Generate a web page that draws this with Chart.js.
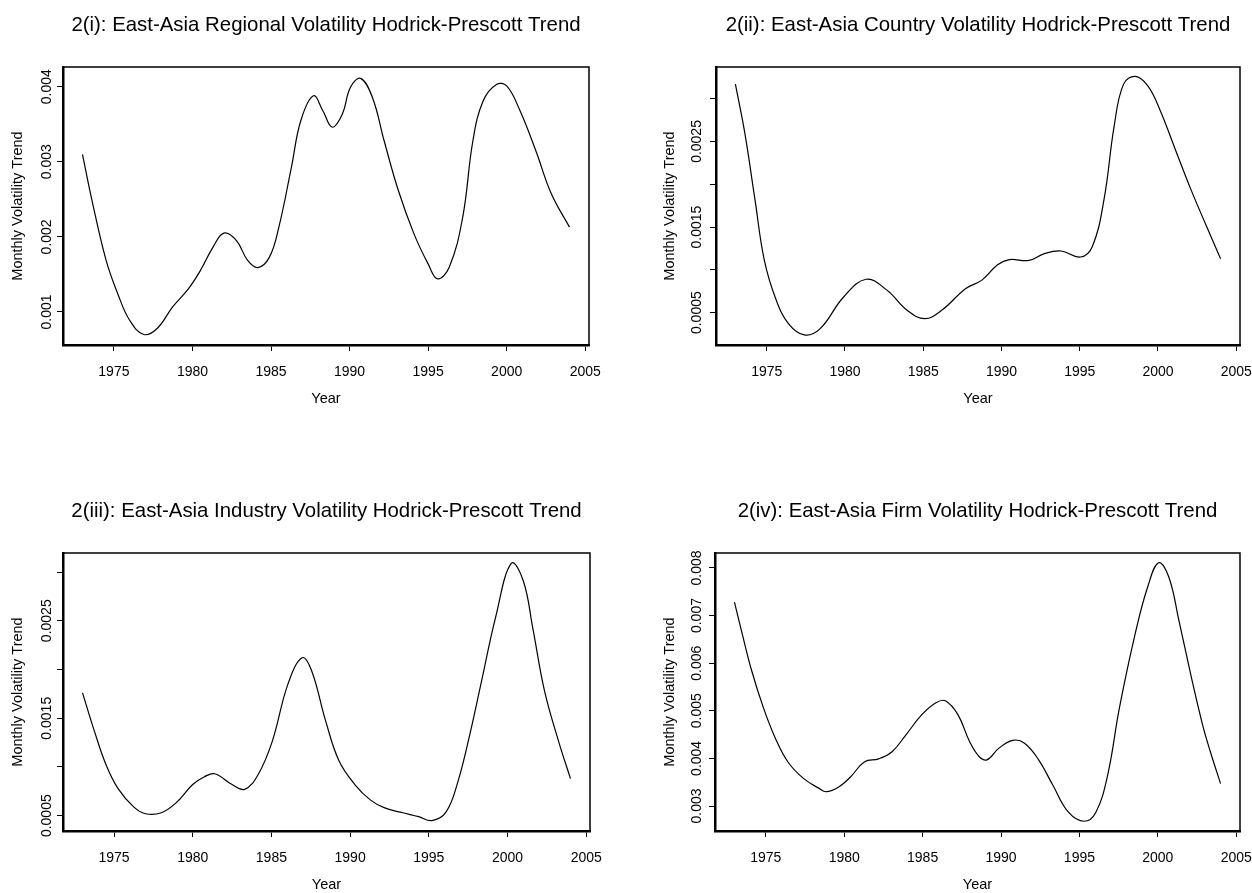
<!DOCTYPE html>
<html>
<head>
<meta charset="utf-8">
<script src="https://cdn.jsdelivr.net/npm/chart.js@4.4.1/dist/chart.umd.min.js"></script>
<style>
  html, body { margin: 0; padding: 0; background: #fff; }
  body { width: 1252px; height: 893px; position: relative; overflow: hidden; }
  canvas { position: absolute; }
</style>
</head>
<body>
<canvas id="regionalChart" width="626" height="446" style="left:0;top:0"></canvas>
<canvas id="countryChart" width="626" height="446" style="left:626px;top:0"></canvas>
<canvas id="industryChart" width="626" height="447" style="left:0;top:446px"></canvas>
<canvas id="firmChart" width="626" height="447" style="left:626px;top:446px"></canvas>
<script>
// x axis ticks shared by all four panels
const yearTicks = [1975, 1980, 1985, 1990, 1995, 2000, 2005];

// 2(i) regional
const regionalYears = [1973.0, 1973.6, 1974.5, 1975.25, 1976.0, 1976.9, 1977.75, 1978.75, 1979.75, 1980.5, 1981.3, 1982.0, 1982.8, 1983.5, 1984.15, 1984.9, 1985.5, 1986.3, 1986.9, 1987.7, 1988.3, 1988.9, 1989.55, 1990.05, 1990.7, 1991.45, 1992.2, 1993.1, 1994.1, 1995.0, 1995.6, 1996.35, 1997.2, 1997.85, 1998.5, 1999.35, 2000.0, 2000.85, 2001.85, 2002.85, 2004.0];
const regionalTrend = [0.00310, 0.00249, 0.00169, 0.00124, 0.00089, 0.00070, 0.00078, 0.00107, 0.00131, 0.00155, 0.00186, 0.00205, 0.00195, 0.00169, 0.00159, 0.00173, 0.00213, 0.00293, 0.00355, 0.00388, 0.00368, 0.00346, 0.00364, 0.00399, 0.00411, 0.00386, 0.00328, 0.00262, 0.00204, 0.00164, 0.00144, 0.00160, 0.00226, 0.00328, 0.00381, 0.00403, 0.00401, 0.00368, 0.00315, 0.00257, 0.00213];
const regionalTickValues = [0.001, 0.002, 0.003, 0.004];
const regionalTickLabels = ['0.001', '0.002', '0.003', '0.004'];

// 2(ii) country
const countryYears = [1973.0, 1973.6, 1974.25, 1974.85, 1975.6, 1976.4, 1977.4, 1978.4, 1979.9, 1981.35, 1982.7, 1983.95, 1985.1, 1986.2, 1987.7, 1988.75, 1989.75, 1990.5, 1991.75, 1992.75, 1993.8, 1995.05, 1995.8, 1996.55, 1997.2, 1997.8, 1998.55, 1999.35, 2000.1, 2001.1, 2002.1, 2003.1, 2004.0];
const countryTrend = [0.00317, 0.00260, 0.00182, 0.00111, 0.00065, 0.00037, 0.00024, 0.00031, 0.00068, 0.00089, 0.00076, 0.00053, 0.00043, 0.00053, 0.00078, 0.00088, 0.00106, 0.00112, 0.00111, 0.00119, 0.00122, 0.00115, 0.00127, 0.00182, 0.00268, 0.00317, 0.00326, 0.00315, 0.00288, 0.00241, 0.00194, 0.00151, 0.00113];
const countryTickValues = [0.0005, 0.001, 0.0015, 0.002, 0.0025, 0.003];
const countryTickLabels = ['0.0005', '', '0.0015', '', '0.0025', ''];

// 2(iii) industry
const industryYears = [1973.0, 1973.75, 1974.5, 1975.25, 1976.25, 1977.0, 1978.0, 1979.0, 1980.0, 1980.75, 1981.4, 1982.5, 1983.3, 1984.15, 1985.05, 1986.05, 1986.95, 1987.55, 1988.45, 1989.3, 1990.3, 1991.3, 1992.2, 1993.35, 1994.35, 1995.2, 1996.1, 1996.85, 1997.6, 1998.35, 1999.25, 2000.25, 2001.0, 2001.6, 2002.35, 2003.25, 2004.0];
const industryTrend = [0.00176, 0.00137, 0.00102, 0.00078, 0.00059, 0.00052, 0.00053, 0.00064, 0.00082, 0.00090, 0.00093, 0.00082, 0.00077, 0.00092, 0.00126, 0.00185, 0.00212, 0.00199, 0.00147, 0.00106, 0.00082, 0.00066, 0.00058, 0.00053, 0.00049, 0.00045, 0.00054, 0.00085, 0.00133, 0.00188, 0.00254, 0.00309, 0.00291, 0.00243, 0.00178, 0.00126, 0.00088];
const industryTickValues = [0.0005, 0.001, 0.0015, 0.002, 0.0025, 0.003];
const industryTickLabels = ['0.0005', '', '0.0015', '', '0.0025', ''];

// 2(iv) firm
const firmYears = [1973.0, 1973.5, 1974.1, 1974.85, 1975.6, 1976.4, 1977.4, 1978.4, 1978.85, 1979.65, 1980.4, 1981.3, 1982.2, 1983.05, 1983.95, 1984.95, 1985.85, 1986.45, 1987.25, 1988.0, 1988.6, 1989.1, 1989.85, 1990.75, 1991.5, 1992.4, 1993.3, 1994.3, 1995.3, 1996.05, 1996.8, 1997.55, 1998.55, 1999.35, 2000.05, 2000.7, 2001.35, 2002.1, 2002.85, 2003.35, 2004.0];
const firmTrend = [0.00728, 0.00661, 0.00584, 0.00506, 0.00443, 0.00393, 0.00358, 0.00337, 0.00330, 0.00340, 0.00361, 0.00393, 0.00399, 0.00414, 0.00450, 0.00492, 0.00517, 0.00521, 0.00492, 0.00435, 0.00404, 0.00397, 0.00421, 0.00438, 0.00432, 0.00397, 0.00344, 0.00287, 0.00268, 0.00287, 0.00365, 0.00506, 0.00661, 0.00760, 0.00811, 0.00781, 0.00689, 0.00576, 0.00471, 0.00414, 0.00347];
const firmTickValues = [0.003, 0.004, 0.005, 0.006, 0.007, 0.008];
const firmTickLabels = ['0.003', '0.004', '0.005', '0.006', '0.007', '0.008'];

const FONT = '"Liberation Sans", Arial, Helvetica, sans-serif';

// box round the plot area plus the panel title centred over it
const frameAndTitle = {
  id: 'frameAndTitle',
  afterDraw(chart, args, opts) {
    const { ctx, chartArea: a } = chart;
    ctx.save();
    ctx.strokeStyle = '#000';
    ctx.lineWidth = 1.5;
    ctx.strokeRect(a.left, a.top, a.right - a.left, a.bottom - a.top);
    ctx.fillStyle = '#000';
    ctx.font = '20.4px ' + FONT;
    ctx.textAlign = 'center';
    ctx.textBaseline = 'middle';
    ctx.fillText(opts.text, (a.left + a.right) / 2, a.top - 42);
    ctx.restore();
  }
};

function makePanel(id, title, years, trend, yMin, yMax, tickValues, tickLabels, L) {
  const canvas = document.getElementById(id);
  if (!canvas || typeof Chart === 'undefined') return;

  new Chart(canvas, {
    type: 'line',
    data: {
      datasets: [{
        data: years.map((yr, i) => ({ x: yr, y: trend[i] })),
        borderColor: '#000',
        borderWidth: 1.2,
        pointRadius: 0,
        tension: 0.4,
        fill: false,
      }],
    },
    options: {
      responsive: false,
      animation: false,
      events: [],
      layout: { autoPadding: false, padding: { top: L.top, right: L.right, left: 0, bottom: 0 } },
      plugins: {
        legend: { display: false },
        tooltip: { enabled: false },
        frameAndTitle: { text: title },
      },
      scales: {
        x: {
          type: 'linear',
          min: 1971.76,
          max: 2005.24,
          afterBuildTicks: (s) => { s.ticks = yearTicks.map((v) => ({ value: v })); },
          afterFit: (s) => { s.height = L.xHeight; s.paddingLeft = 0; s.paddingRight = 0; },
          grid: { drawOnChartArea: false, color: '#000', tickLength: 6 },
          border: { color: '#000', width: 2.5 },
          ticks: {
            color: '#000', font: { family: FONT, size: 14 }, padding: 12.6,
            maxRotation: 0, autoSkip: false, callback: (v) => String(v),
          },
          title: {
            display: true, text: 'Year', color: '#000',
            font: { family: FONT, size: 14.5, lineHeight: 1.1 },
            padding: { top: 0, bottom: L.xTitlePad },
          },
        },
        y: {
          type: 'linear',
          min: yMin,
          max: yMax,
          afterBuildTicks: (s) => { s.ticks = tickValues.map((v) => ({ value: v })); },
          afterFit: (s) => { s.width = L.yWidth; s.paddingTop = 0; s.paddingBottom = 0; },
          grid: { drawOnChartArea: false, color: '#000', tickLength: 6 },
          border: { color: '#000', width: 2.5 },
          ticks: {
            color: '#000', font: { family: FONT, size: 14 }, padding: L.yTickPad,
            minRotation: 90, maxRotation: 90, crossAlign: 'center', autoSkip: false,
            callback: (v, i) => tickLabels[i],
          },
          title: {
            display: true, text: 'Monthly Volatility Trend', color: '#000',
            font: { family: FONT, size: 14.5, lineHeight: 1.1 },
            padding: { top: L.yTitlePad, bottom: 0 },
          },
        },
      },
    },
    plugins: [frameAndTitle],
  });
}

makePanel('regionalChart', '2(i): East-Asia Regional Volatility Hodrick-Prescott Trend',
  regionalYears, regionalTrend, 0.00056, 0.004262, regionalTickValues, regionalTickLabels,
  { top: 67, right: 37, yWidth: 63, xHeight: 101, yTickPad: -7.2, yTitlePad: 10, xTitlePad: 39 });

makePanel('countryChart', '2(ii): East-Asia Country Volatility Hodrick-Prescott Trend',
  countryYears, countryTrend, 0.000122, 0.00337, countryTickValues, countryTickLabels,
  { top: 67, right: 12, yWidth: 90, xHeight: 101, yTickPad: -8.4, yTitlePad: 36, xTitlePad: 39 });

makePanel('industryChart', '2(iii): East-Asia Industry Volatility Hodrick-Prescott Trend',
  industryYears, industryTrend, 0.000343, 0.003195, industryTickValues, industryTickLabels,
  { top: 107, right: 36, yWidth: 63, xHeight: 62, yTickPad: -11.1, yTitlePad: 10, xTitlePad: 0 });

makePanel('firmChart', '2(iv): East-Asia Firm Volatility Hodrick-Prescott Trend',
  firmYears, firmTrend, 0.002475, 0.008314, firmTickValues, firmTickLabels,
  { top: 107, right: 12, yWidth: 89, xHeight: 62, yTickPad: -5.8, yTitlePad: 36, xTitlePad: 0 });
</script>
</body>
</html>
